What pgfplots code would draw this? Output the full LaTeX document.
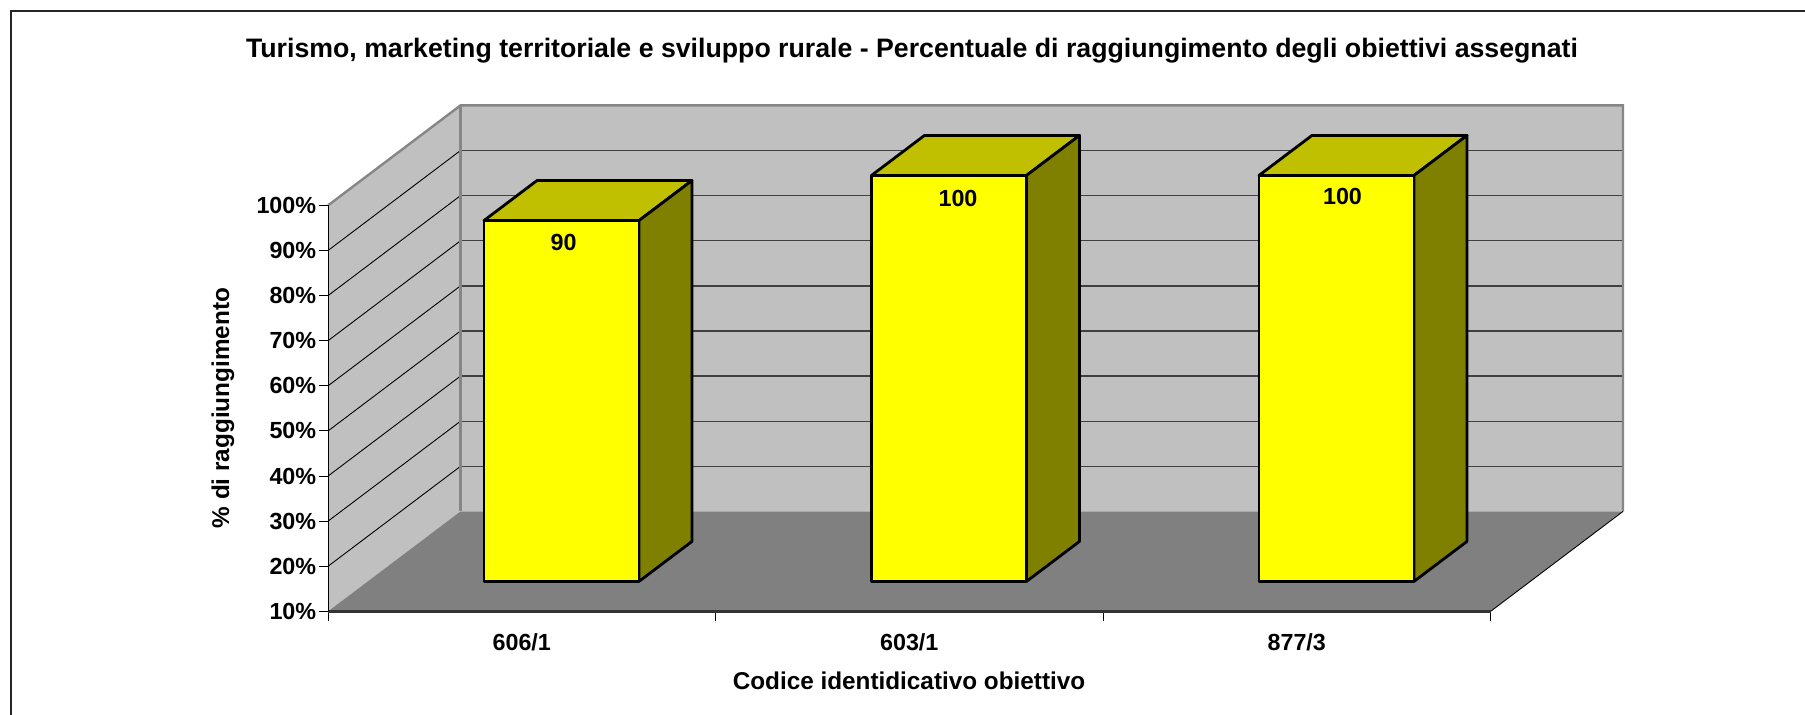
\documentclass[border=0pt]{standalone}
\usepackage{pgfplots}
\usepackage{fontspec}
\setmainfont{Liberation Sans}
\pgfplotsset{compat=1.18}
\definecolor{wall}{HTML}{C0C0C0}
\definecolor{floorc}{HTML}{808080}
\definecolor{edge}{HTML}{868686}
\definecolor{barfront}{HTML}{FFFF00}
\definecolor{bartop}{HTML}{C0C000}
\definecolor{barside}{HTML}{808000}
\newcommand{\tf}{\bfseries\fontsize{11.7}{14}\selectfont}
\newcommand{\lf}{\bfseries\fontsize{12.2}{14}\selectfont}
\begin{document}
\begin{tikzpicture}
\useasboundingbox (0,0) rectangle (902.5bp,-357.5bp);
\draw[line width=0.8bp,color=black!85] (5.4bp,-357.5bp) -- (5.4bp,-5.4bp) -- (902.5bp,-5.4bp);
\begin{axis}[
  at={(164bp,-305.7bp)}, anchor=south west,
  x={(193.75bp,0bp)}, y={(66.25bp,50bp)}, z={(0bp,2.2555bp)},
  xmin=0, xmax=3, ymin=0, ymax=1, zmin=10, zmax=100,
  clip=false, axis on top=true,
  axis lines=left,
  axis line style={-},
  x axis line style={line width=1.1bp,color=black!80},
  y axis line style={draw=none},
  z axis line style={line width=0.5bp,color=black},
  ytick=\empty,
  xtick={0.5,1.5,2.5},
  xticklabels={606/1,603/1,877/3},
  ztick={10,20,30,40,50,60,70,80,90,100},
  zticklabels={10\%,20\%,30\%,40\%,50\%,60\%,70\%,80\%,90\%,100\%},
  major tick length=0bp,
  tick style={draw=none},
  tick label style={font=\tf,text=black},
  xticklabel style={anchor=center,yshift=-15.3bp},
  zticklabel style={anchor=east,xshift=-2.4bp},
  every axis plot/.append style={no marks},
]
% walls and floor
\addplot3[fill=wall,draw=none] coordinates {(0,0,10)(0,1,10)(0,1,100)(0,0,100)} -- cycle;
\addplot3[fill=wall,draw=none] coordinates {(0,1,10)(3,1,10)(3,1,100)(0,1,100)} -- cycle;
\addplot3[fill=floorc,draw=none] coordinates {(0,0,10)(3,0,10)(3,1,10)(0,1,10)} -- cycle;
% gridlines
\pgfplotsinvokeforeach{20,30,40,50,60,70,80,90}{
  \addplot3[color=black,line width=0.45bp] coordinates {(0,0,#1)(0,1,#1)};
  \addplot3[color=black!75,line width=0.65bp] coordinates {(0,1,#1)(3,1,#1)};
}
% wall edges
\addplot3[color=edge,line width=1.2bp] coordinates {(0,0,100)(0,1,100)(3,1,100)(3,1,10)};
\addplot3[color=edge,line width=1.2bp] coordinates {(0,1,100)(0,1,10)};
\addplot3[color=black,line width=0.45bp] coordinates {(3,0,10)(3,1,10)};
% bars
\addplot3[fill=bartop,draw=black,line width=1.4bp,line join=round] coordinates {(0.3,0.3,90)(0.7,0.3,90)(0.7,0.7,90)(0.3,0.7,90)} -- cycle;
\addplot3[fill=barside,draw=black,line width=1.4bp,line join=round] coordinates {(0.7,0.3,10)(0.7,0.7,10)(0.7,0.7,90)(0.7,0.3,90)} -- cycle;
\addplot3[fill=barfront,draw=black,line width=1.4bp,line join=round] coordinates {(0.3,0.3,10)(0.7,0.3,10)(0.7,0.3,90)(0.3,0.3,90)} -- cycle;
\addplot3[fill=bartop,draw=black,line width=1.4bp,line join=round] coordinates {(1.3,0.3,100)(1.7,0.3,100)(1.7,0.7,100)(1.3,0.7,100)} -- cycle;
\addplot3[fill=barside,draw=black,line width=1.4bp,line join=round] coordinates {(1.7,0.3,10)(1.7,0.7,10)(1.7,0.7,100)(1.7,0.3,100)} -- cycle;
\addplot3[fill=barfront,draw=black,line width=1.4bp,line join=round] coordinates {(1.3,0.3,10)(1.7,0.3,10)(1.7,0.3,100)(1.3,0.3,100)} -- cycle;
\addplot3[fill=bartop,draw=black,line width=1.4bp,line join=round] coordinates {(2.3,0.3,100)(2.7,0.3,100)(2.7,0.7,100)(2.3,0.7,100)} -- cycle;
\addplot3[fill=barside,draw=black,line width=1.4bp,line join=round] coordinates {(2.7,0.3,10)(2.7,0.7,10)(2.7,0.7,100)(2.7,0.3,100)} -- cycle;
\addplot3[fill=barfront,draw=black,line width=1.4bp,line join=round] coordinates {(2.3,0.3,10)(2.7,0.3,10)(2.7,0.3,100)(2.3,0.3,100)} -- cycle;
\node[font=\tf,yshift=-11bp,xshift=1bp] at (axis cs:0.5,0.3,90) {90};
\node[font=\tf,yshift=-11.3bp,xshift=4.5bp] at (axis cs:1.5,0.3,100) {100};
\node[font=\tf,yshift=-10.5bp,xshift=3bp] at (axis cs:2.5,0.3,100) {100};
% tick marks
\pgfplotsinvokeforeach{0,1,2,3}{
  \draw[line width=0.5bp,color=black] (axis cs:#1,0,10) -- ++(0bp,-4.6bp);
}
\pgfplotsinvokeforeach{10,20,30,40,50,60,70,80,90,100}{
  \draw[line width=0.5bp,color=black] (axis cs:0,0,#1) -- ++(-4.4bp,0bp);
}
\end{axis}
\node[font=\bfseries\fontsize{13.4}{15}\selectfont] at (456bp,-25.2bp) {Turismo, marketing territoriale e sviluppo rurale - Percentuale di raggiungimento degli obiettivi assegnati};
\node[font=\lf] at (454.5bp,-340.5bp) {Codice identidicativo obiettivo};
\node[font=\lf,rotate=90] at (111.5bp,-204bp) {\% di raggiungimento};
\end{tikzpicture}
\end{document}
